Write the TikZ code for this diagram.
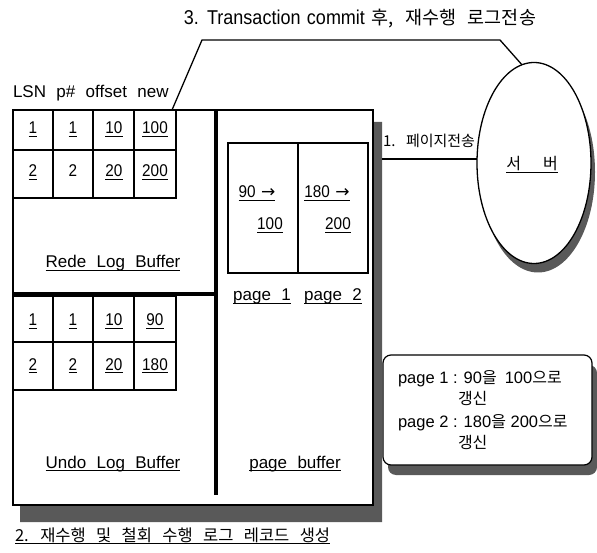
\documentclass[tikz,border=0pt]{standalone}
\usepackage{fontspec}
\setmainfont{Liberation Sans}[WordSpace=2.2]
\newfontfamily\kr{Noto Sans CJK KR}[WordSpace=2.8]
\newfontfamily\narrow{Liberation Sans}[FakeStretch=0.9,WordSpace=1.3]
\newfontfamily\plainsans{Liberation Sans}
\newfontfamily\sym{DejaVu Sans}
\newcommand\undl[1]{\leavevmode\setbox0\hbox{#1}\rlap{\rule[-3pt]{\wd0}{0.9pt}}\box0}
\usetikzlibrary{shapes.geometric}
\definecolor{shadowc}{gray}{0.35}
\begin{document}
\begin{tikzpicture}[x=1pt,y=-1pt,
  every node/.style={inner sep=0pt,outer sep=0pt},
  frame/.style={line width=1.2pt},
  conn/.style={line width=1.3pt},
  heavy/.style={line width=4pt},
  cellbox/.style={draw,frame,anchor=north west},
  num/.style={font=\narrow\fontsize{17}{18}\selectfont,anchor=base},
  lbl/.style={font=\fontsize{17}{19}\selectfont,anchor=base},
  krl/.style={font=\kr\fontsize{16.5}{18}\selectfont,anchor=base west},
  notel/.style={font=\plainsans\fontsize{16.5}{18}\selectfont,anchor=base west},
  notek/.style={font=\kr\fontsize{16}{18}\selectfont,anchor=base west}]
\useasboundingbox (0,0) rectangle (597,553);
\fill[white] (0,0) rectangle (597,553);

% title
\node[anchor=base] (title) at (360,25) {{\narrow\fontsize{20}{22}\selectfont 3. Transaction commit }{\kr\fontsize{18.5}{20}\selectfont 후, 재수행 로그전송}};

% shadow of main box
\fill[shadowc] (373,122) -- (382,122) -- (382,522) -- (20,522) -- (20,505) -- (373,505) -- cycle;
% main box
\node[draw,frame,fill=white,minimum width=360pt,minimum height=395pt,anchor=north west] (mainbox) at (13,110) {};
\draw[heavy] (216,110) -- (216,495);
\draw[heavy] (13,294) -- (216,294);

% column header
\node[lbl,anchor=base west] (hdr) at (13,98) {LSN p\# offset new};

% redo table
\node[cellbox,minimum width=40pt,minimum height=40pt] (r11) at (13,110) {};
\node[cellbox,minimum width=40pt,minimum height=40pt] (r12) at (53,110) {};
\node[cellbox,minimum width=41pt,minimum height=40pt] (r13) at (93,110) {};
\node[cellbox,minimum width=42pt,minimum height=40pt] (r14) at (134,110) {};
\node[cellbox,minimum width=40pt,minimum height=48pt] (r21) at (13,150) {};
\node[cellbox,minimum width=40pt,minimum height=48pt] (r22) at (53,150) {};
\node[cellbox,minimum width=41pt,minimum height=48pt] (r23) at (93,150) {};
\node[cellbox,minimum width=42pt,minimum height=48pt] (r24) at (134,150) {};
\node[num] (t11) at (33,134) {\undl{1}};
\node[num] (t12) at (73,134) {\undl{1}};
\node[num] (t13) at (114,134) {\undl{10}};
\node[num] (t14) at (155,134) {\undl{100}};
\node[num] (t21) at (33,177) {\undl{2}};
\node[num] (t22) at (73,177) {2};
\node[num] (t23) at (114,177) {\undl{20}};
\node[num] (t24) at (155,177) {\undl{200}};
\node[lbl] (redolbl) at (113,268) {\undl{Rede Log Buffer}};

% undo table
\node[cellbox,minimum width=40pt,minimum height=46pt] (u11) at (13,296) {};
\node[cellbox,minimum width=40pt,minimum height=46pt] (u12) at (53,296) {};
\node[cellbox,minimum width=41pt,minimum height=46pt] (u13) at (93,296) {};
\node[cellbox,minimum width=42pt,minimum height=46pt] (u14) at (134,296) {};
\node[cellbox,minimum width=40pt,minimum height=48pt] (u21) at (13,342) {};
\node[cellbox,minimum width=40pt,minimum height=48pt] (u22) at (53,342) {};
\node[cellbox,minimum width=41pt,minimum height=48pt] (u23) at (93,342) {};
\node[cellbox,minimum width=42pt,minimum height=48pt] (u24) at (134,342) {};
\node[num] (v11) at (33,326) {\undl{1}};
\node[num] (v12) at (73,326) {\undl{1}};
\node[num] (v13) at (114,326) {\undl{10}};
\node[num] (v14) at (155,326) {\undl{90}};
\node[num] (v21) at (33,370) {\undl{2}};
\node[num] (v22) at (73,370) {\undl{2}};
\node[num] (v23) at (114,370) {\undl{20}};
\node[num] (v24) at (155,370) {\undl{180}};
\node[lbl] (undolbl) at (113,468) {\undl{Undo Log Buffer}};

% page buffer
\node[draw,frame,minimum width=140pt,minimum height=130pt,anchor=north west] (pages) at (228,143) {};
\draw[frame] (pages.north) -- (pages.south);
\node[num] (pa1) at (257,198) {\undl{90 {\sym →}}};
\node[num] (pa2) at (270,230) {\undl{100}};
\node[num] (pb1) at (327,198) {\undl{180 {\sym →}}};
\node[num] (pb2) at (338,230) {\undl{200}};
\node[lbl] (pg1) at (262,301) {\undl{page 1}};
\node[lbl] (pg2) at (333,301) {\undl{page 2}};
\node[lbl] (pbuf) at (295,468) {\undl{page buffer}};

% server
\fill[shadowc] (538,172) ellipse [x radius=57pt,y radius=100.5pt];
\node[ellipse,draw,conn,fill=white,minimum width=114pt,minimum height=201pt] (server) at (534,163) {};
\node[font=\kr\fontsize{16}{18}\selectfont,anchor=base] (srvtxt) at (532,170) {\undl{서\hspace{22pt}버}};

% connector 1
\coordinate (c1start) at (382,159);
\draw[conn] (c1start) -- (c1start -| server.west);
\node[krl,font=\kr\fontsize{15}{18}\selectfont] (lbl1) at (383,147) {1. 페이지전송};

% connector 3
\coordinate (c3start) at (172,110);
\coordinate (c3a) at (202,40);
\coordinate (c3b) at (500,40);
\draw[conn] (c3start) -- (c3a) -- (c3b) -- (server.97);

% note
\fill[shadowc,rounded corners=8pt] (388,365) rectangle (597,475);
\node[draw,frame,fill=white,rounded corners=8pt,minimum width=209pt,minimum height=110pt,anchor=north west] (note) at (383,355) {};
\node[notel] (n1) at (398,383) {page 1 : 90{\kr\fontsize{16}{18}\selectfont 을}\hspace{8pt}100{\kr\fontsize{16}{18}\selectfont 으로}};
\node[notek] (n2) at (458,404) {갱신};
\node[notel] (n3) at (398,427) {page 2 : 180{\kr\fontsize{16}{18}\selectfont 을} 200{\kr\fontsize{16}{18}\selectfont 으로}};
\node[notek] (n4) at (458,448) {갱신};

% bottom caption
\node[krl] (caption) at (15,541) {\undl{2. 재수행 및 철회 수행 로그 레코드 생성}};
\end{tikzpicture}
\end{document}
